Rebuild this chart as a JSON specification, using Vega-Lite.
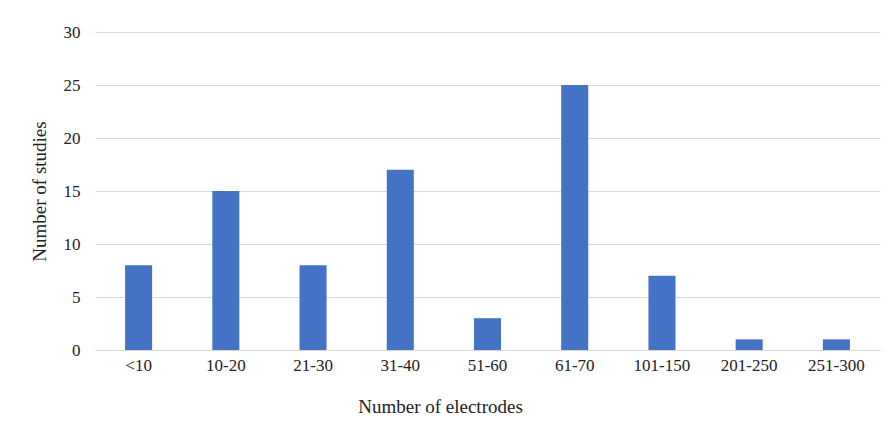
{
  "$schema": "https://vega.github.io/schema/vega-lite/v6.json",
  "width": 785,
  "height": 318,
  "autosize": {"type": "none"},
  "padding": {"left": 95, "top": 32, "right": 10, "bottom": 80},
  "background": "white",
  "config": {
    "view": {"stroke": null},
    "font": "Liberation Serif, Times New Roman, serif"
  },
  "data": {
    "values": [
      {"range": "<10", "studies": 8},
      {"range": "10-20", "studies": 15},
      {"range": "21-30", "studies": 8},
      {"range": "31-40", "studies": 17},
      {"range": "51-60", "studies": 3},
      {"range": "61-70", "studies": 25},
      {"range": "101-150", "studies": 7},
      {"range": "201-250", "studies": 1},
      {"range": "251-300", "studies": 1}
    ]
  },
  "mark": {"type": "bar", "color": "#4472c4"},
  "encoding": {
    "x": {
      "field": "range",
      "type": "nominal",
      "sort": null,
      "scale": {"paddingInner": 0.69, "paddingOuter": 0.345},
      "axis": {
        "title": "Number of electrodes",
        "labelAngle": 0,
        "labelFont": "Liberation Serif, Times New Roman, serif",
        "labelFontSize": 17,
        "labelColor": "#222222",
        "labelPadding": 7,
        "ticks": false,
        "domain": true,
        "domainColor": "#d9d9d9",
        "titleFont": "Liberation Serif, Times New Roman, serif",
        "titleFontSize": 19,
        "titleFontWeight": "normal",
        "titleColor": "#222222",
        "titlePadding": 24,
        "titleX": 345,
        "titleAlign": "center"
      }
    },
    "y": {
      "field": "studies",
      "type": "quantitative",
      "scale": {"domain": [0, 30]},
      "axis": {
        "title": "Number of studies",
        "values": [0, 5, 10, 15, 20, 25, 30],
        "labelFont": "Liberation Serif, Times New Roman, serif",
        "labelFontSize": 17,
        "labelColor": "#222222",
        "labelPadding": 15,
        "ticks": false,
        "domain": false,
        "grid": true,
        "gridColor": "#d9d9d9",
        "titleFont": "Liberation Serif, Times New Roman, serif",
        "titleFontSize": 19,
        "titleFontWeight": "normal",
        "titleColor": "#222222",
        "titlePadding": 14
      }
    }
  }
}
